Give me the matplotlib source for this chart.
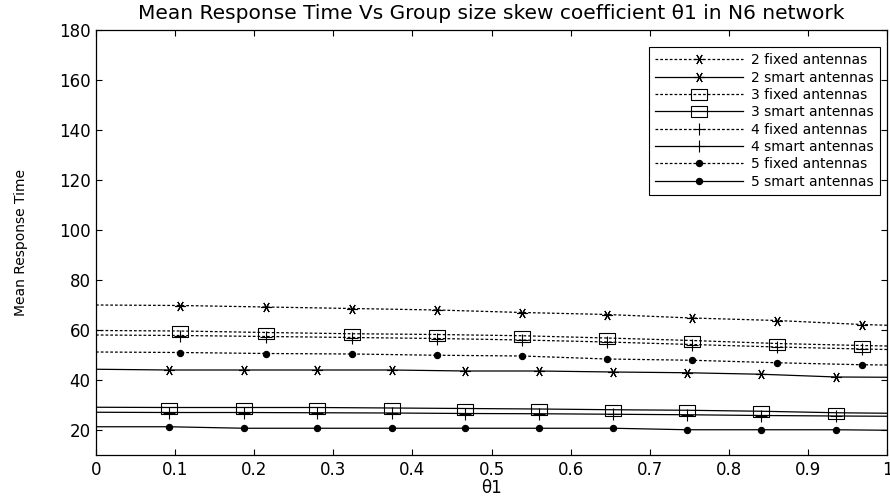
import numpy as np
import matplotlib.pyplot as plt
from matplotlib.path import Path
from matplotlib.lines import Line2D

# x positions: lines run 0..1, markers sit on the inner points
x_fixed = [0, 0.106, 0.215, 0.324, 0.431, 0.539, 0.646, 0.753, 0.861, 0.968, 1]
x_smart = [0, 0.092, 0.187, 0.279, 0.374, 0.467, 0.560, 0.654, 0.747, 0.841, 0.936, 1]

fixed2 = [70.0, 69.8, 69.2, 68.6, 68.0, 67.0, 66.2, 64.8, 63.8, 62.2, 61.9]
smart2 = [44.3, 44.0, 44.0, 44.0, 44.0, 43.6, 43.6, 43.2, 42.9, 42.3, 41.2, 41.1]
fixed3 = [59.8, 59.6, 59.0, 58.5, 58.2, 57.7, 56.8, 55.8, 54.6, 53.8, 53.6]
smart3 = [29.1, 29.0, 29.0, 29.0, 28.8, 28.6, 28.4, 28.1, 27.9, 27.5, 26.9, 26.7]
fixed4 = [58.0, 57.8, 57.4, 57.0, 56.6, 56.0, 55.2, 54.2, 53.2, 52.4, 52.2]
smart4 = [27.1, 27.0, 27.0, 26.9, 26.8, 26.6, 26.5, 26.3, 26.1, 25.8, 25.6, 25.5]
fixed5 = [51.2, 51.0, 50.6, 50.4, 49.9, 49.6, 48.4, 47.9, 46.9, 46.1, 46.0]
smart5 = [21.3, 21.3, 20.7, 20.7, 20.7, 20.7, 20.7, 20.7, 20.1, 20.1, 20.1, 19.9]

labels = ['2 fixed antennas', '2 smart antennas',
          '3 fixed antennas', '3 smart antennas',
          '4 fixed antennas', '4 smart antennas',
          '5 fixed antennas', '5 smart antennas']

plt.rcParams['font.family'] = 'DejaVu Sans'

# wide box marker like the stretched squares in the original
box = Path([(-1, -0.72), (1, -0.72), (1, 0.72), (-1, 0.72), (-1, -0.72)],
           [Path.MOVETO, Path.LINETO, Path.LINETO, Path.LINETO, Path.CLOSEPOLY])
star = (6, 2, 90)

styles = [
    (x_fixed, fixed2, ':', star, 7.5, 'none'),
    (x_smart, smart2, '-', star, 7.5, 'none'),
    (x_fixed, fixed3, ':', box, 11, 'none'),
    (x_smart, smart3, '-', box, 11, 'none'),
    (x_fixed, fixed4, ':', '+', 9, 'none'),
    (x_smart, smart4, '-', '+', 9, 'none'),
    (x_fixed, fixed5, ':', 'o', 4.5, 'k'),
    (x_smart, smart5, '-', 'o', 4.5, 'k'),
]

fig = plt.figure(figsize=(8.9, 5.0), dpi=100)
ax = fig.add_axes([96/890, 1-455/500, 791/890, 425/500])

handles = []
for (xs, ys, ls, mk, ms, fc), lab in zip(styles, labels):
    dash = (2.2, 1.6) if ls == ':' else None
    ln, = ax.plot(xs, ys, color='k', ls='--' if dash else '-', lw=0.9, marker=mk, ms=ms,
                  mfc=fc, mec='k', mew=0.8, markevery=slice(1, len(xs)-1))
    h = Line2D([], [], color='k', ls='--' if dash else '-', lw=0.9, marker=mk,
               ms=ms, mfc=fc, mec='k', mew=0.8)
    if dash:
        ln.set_dashes(dash)
        h.set_dashes(dash)
    handles.append(h)

ax.set_xlim(0, 1)
ax.set_ylim(10, 180)
ax.set_xticks(np.arange(0, 1.01, 0.1))
ax.set_xticklabels(['0', '0.1', '0.2', '0.3', '0.4', '0.5', '0.6', '0.7', '0.8', '0.9', '1'])
ax.set_yticks(np.arange(20, 181, 20))
ax.tick_params(direction='in', top=True, right=True, length=4, width=0.8,
               labelsize=12, colors='k', pad=4)
for s in ax.spines.values():
    s.set_linewidth(0.9)
    s.set_color('k')

ax.set_title('Mean Response Time Vs Group size skew coefficient θ1 in N6 network',
             fontsize=14.5, pad=8)
ax.set_xlabel('θ1', fontsize=12, labelpad=0)
ax.set_ylabel('Mean Response Time', fontsize=10, labelpad=22)

leg = ax.legend(handles, labels, loc='upper right',
                bbox_to_anchor=(880/890, 1-47/500), bbox_transform=fig.transFigure,
                borderaxespad=0, fontsize=10, handlelength=6.3, handletextpad=0.6,
                labelspacing=0.24, borderpad=0.45, fancybox=False, framealpha=1,
                edgecolor='k', numpoints=1)
leg.get_frame().set_linewidth(0.8)

fig.savefig('out.png', dpi=100)
